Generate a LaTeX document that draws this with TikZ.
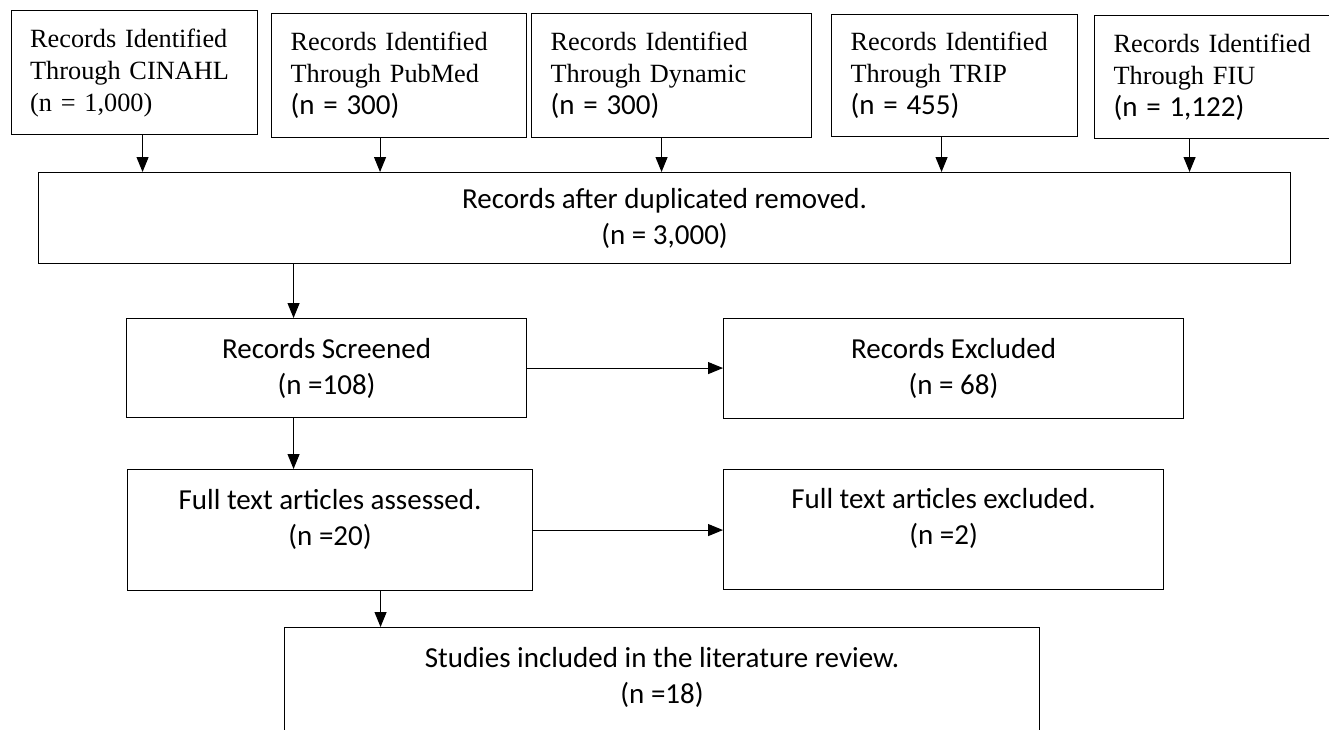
\documentclass[tikz,border=0pt]{standalone}
\usepackage{fontspec}
\usetikzlibrary{arrows.meta}
\newfontfamily\timesfont{Liberation Serif}
\newfontfamily\calibfont{Carlito}
\newcommand{\srcfont}{\timesfont\fontsize{26.3}{32}\selectfont}
\newcommand{\flowfont}{\calibfont\fontsize{29}{36}\selectfont}
\newcommand{\nval}[1]{{\calibfont\fontsize{29}{32}\selectfont #1}}
\tikzset{
  srcbox/.style={draw, line width=1.1pt, anchor=north west, align=left,
    inner xsep=19pt, inner ysep=0pt, font=\srcfont},
  flowbox/.style={draw, line width=1.1pt, anchor=north west, align=center,
    inner sep=0pt, font=\flowfont},
  arr/.style={-{Triangle[length=15pt,width=12pt]}, line width=1.1pt}
}

\begin{document}
\begin{tikzpicture}[x=1pt,y=-1pt]
  \useasboundingbox (0,0) rectangle (1329,729);
  \node[srcbox, text width=208.4pt, minimum height=124pt] (cinahl) at (10.6,10)
    {Records Identified\\Through CINAHL\\(n = 1,000)};
  \node[srcbox, text width=217pt, minimum height=124pt] (pubmed) at (271,13)
    {Records Identified\\Through PubMed\\\nval{(n = 300)}};
  \node[srcbox, text width=242pt, minimum height=124pt] (dynamic) at (531,13)
    {Records Identified\\Through Dynamic\\\nval{(n = 300)}};
  \node[srcbox, text width=208pt, minimum height=122pt] (trip) at (831,14)
    {Records Identified\\Through TRIP\\\nval{(n = 455)}};
  \node[srcbox, text width=222pt, minimum height=123pt] (fiu) at (1094,15)
    {Records Identified\\Through FIU\\\nval{(n = 1,122)}};

  \node[flowbox, minimum width=1252pt, minimum height=91pt] (dupl) at (38,172)
    {Records after duplicated removed.\\(n = 3,000)};
  \node[flowbox, minimum width=400pt, minimum height=99pt] (screened) at (126,318)
    {Records Screened\\(n =108)};
  \node[flowbox, minimum width=460pt, minimum height=100pt] (excluded) at (723,318)
    {Records Excluded\\(n = 68)};
  \node[flowbox, minimum width=405pt, minimum height=121pt] (fulltext) at (127,469)
    {Full text articles assessed.\\(n =20)\\[-10pt]\mbox{}};
  \node[flowbox, minimum width=440pt, minimum height=120pt] (ftexcl) at (723,469)
    {Full text articles excluded.\\(n =2)\\[-10pt]\mbox{}};
  \node[flowbox, minimum width=755pt, minimum height=132pt] (studies) at (284,627)
    {Studies included in the literature review.\\(n =18)\\\mbox{}};

  \foreach \n/\s in {cinahl/8.2, pubmed/-19, dynamic/-10, trip/-13, fiu/-35}
    \draw[arr] ([xshift=\s pt]\n.south) -- ([xshift=\s pt]\n.south |- dupl.north);
  \draw[arr] ([xshift=-33pt]screened.north |- dupl.south) -- ([xshift=-33pt]screened.north);
  \draw[arr] (screened.east) -- (screened.east -| excluded.west);
  \draw[arr] ([xshift=-33pt]screened.south) -- ([xshift=-33pt]screened.south |- fulltext.north);
  \draw[arr] (fulltext.east) -- (fulltext.east -| ftexcl.west);
  \draw[arr] ([xshift=50.5pt]fulltext.south) -- ([xshift=50.5pt]fulltext.south |- studies.north);
\end{tikzpicture}
\end{document}
